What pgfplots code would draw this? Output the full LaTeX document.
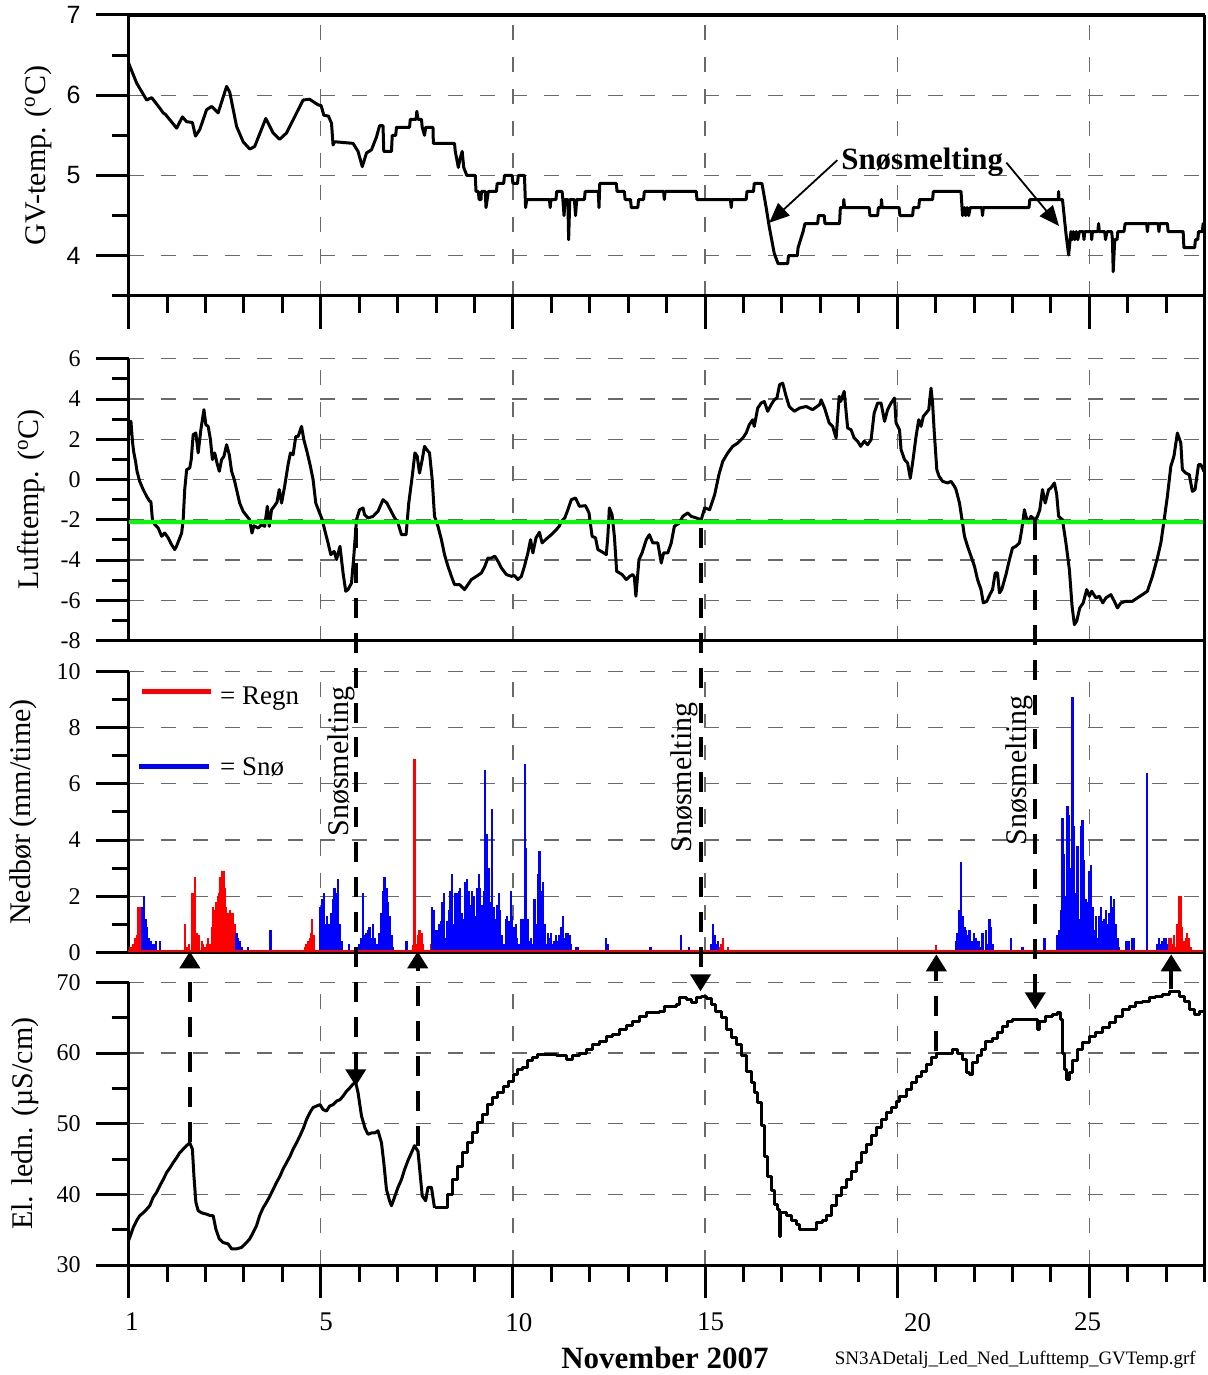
\documentclass[border=0pt]{standalone}
\usepackage{fontspec}
\setmainfont{Liberation Serif}
\newfontfamily\arialf{Liberation Sans}
\usepackage{pgfplots}
\pgfplotsset{compat=1.18}
\usetikzlibrary{arrows.meta}
\definecolor{gridgray}{RGB}{105,105,105}
\definecolor{rgreen}{RGB}{0,255,0}
\pgfplotsset{
 panel/.style={
  scale only axis, width=538.4pt, xmin=0, xmax=28,
  axis x line*=bottom, axis y line*=left,
  axis line style={line width=1.6pt,-},
  tick align=outside,
  major tick length=16.5pt, minor tick length=8.5pt,
  tick style={line width=1.5pt, black},
  grid=major,
  major grid style={draw=gridgray, line width=0.6pt, dash pattern=on 7.5pt off 8.5pt},
  yticklabel style={font=\fontsize{12}{14}\selectfont, anchor=east, inner sep=0pt, xshift=-7.3pt},
  ylabel style={font=\fontsize{15}{18}\selectfont, anchor=center},
  clip=false,
  anchor=north west,
 },
 curve/.style={black, line width=1.5pt, line join=round, mark=none},
 bars/.style={ycomb, mark=none, line width=1.1pt},
}
\begin{document}
\begin{tikzpicture}
\begin{scope}[x=0.5pt, y=-0.5pt, shift={(-128.7,0)}]
\path[use as bounding box] (0,0) rectangle (1208,1375);
\end{scope}

% ---------------- Panel 1: GV-temp
\begin{axis}[panel, at={(0pt,-7.5pt)}, height=140.5pt, ymin=3.5, ymax=7,
  ytick={4,5,6,7}, minor ytick={3.5,4.5,5.5,6.5}, yticklabels={4,5,6,7},
  yticklabel style={font=\arialf\fontsize{12.5}{15}\selectfont},
  xtick={0,5,...,25}, minor xtick={1,...,28}, xticklabel=\empty,
  ylabel={GV-temp. (\textsuperscript{o}C)},
  ylabel style={at={(axis description cs:-0.0842,0.5)}}]
\addplot[curve] coordinates {
(0,6.40) (0.21,6.15) (0.47,5.94) (0.60,5.97) (0.81,5.84) (0.90,5.78) (0.96,5.76) (1.25,5.59) (1.40,5.73) (1.51,5.67) (1.66,5.66) (1.74,5.49) (1.85,5.57) (2.03,5.82) (2.16,5.86) (2.33,5.78) (2.55,6.11) (2.63,6.04) (2.81,5.61) (2.98,5.42) (3.15,5.33) (3.28,5.36) (3.57,5.71) (3.76,5.53) (3.93,5.45) (4.11,5.53) (4.54,5.94) (4.71,5.95) (4.93,5.88) (5.01,5.87) (5.08,5.75) (5.20,5.74) (5.28,5.65) (5.32,5.38) (5.36,5.42) (5.84,5.40) (5.97,5.30) (6.08,5.11) (6.19,5.28) (6.32,5.32) (6.45,5.48) (6.53,5.62) (6.62,5.62) (6.64,5.30) (6.84,5.30) (6.86,5.50) (6.95,5.50) (6.97,5.60) (7.31,5.60) (7.33,5.70) (7.48,5.70) (7.50,5.80) (7.53,5.70) (7.62,5.70) (7.64,5.60) (7.70,5.50) (7.73,5.60) (7.92,5.60) (7.93,5.40) (8.48,5.40) (8.50,5.30) (8.58,5.10) (8.62,5.20) (8.68,5.30) (8.72,5.10) (8.80,5.00) (9.02,5.00) (9.04,4.80) (9.10,4.80) (9.12,4.70) (9.17,4.70) (9.18,4.80) (9.28,4.80) (9.30,4.60) (9.36,4.80) (9.57,4.80) (9.59,4.90) (9.76,4.90) (9.78,5.00) (9.98,5.00) (10.00,4.90) (10.12,4.90) (10.14,5.00) (10.30,5.00) (10.33,4.60) (10.36,4.70) (10.95,4.70) (10.97,4.60) (10.99,4.70) (11.12,4.70) (11.14,4.80) (11.28,4.80) (11.30,4.70) (11.33,4.50) (11.36,4.70) (11.43,4.70) (11.45,4.20) (11.48,4.70) (11.60,4.70) (11.63,4.50) (11.66,4.70) (11.86,4.70) (11.88,4.80) (12.22,4.80) (12.24,4.60) (12.26,4.90) (12.69,4.90) (12.71,4.80) (12.90,4.80) (12.92,4.70) (13.06,4.70) (13.08,4.60) (13.25,4.60) (13.27,4.70) (13.40,4.70) (13.42,4.80) (13.92,4.80) (13.94,4.70) (13.96,4.80) (14.77,4.80) (14.79,4.70) (15.66,4.70) (15.68,4.60) (15.70,4.70) (16.07,4.70) (16.09,4.80) (16.26,4.80) (16.28,4.90) (16.48,4.90) (16.59,4.60) (16.67,4.36) (16.80,4.03) (16.90,3.90) (17.15,3.90) (17.17,4.00) (17.40,4.00) (17.42,4.10) (17.55,4.30) (17.60,4.40) (17.93,4.40) (17.95,4.50) (18.10,4.50) (18.12,4.40) (18.50,4.40) (18.52,4.60) (18.60,4.60) (18.61,4.70) (18.63,4.60) (19.27,4.60) (19.29,4.50) (19.49,4.50) (19.51,4.60) (19.58,4.60) (19.59,4.70) (19.61,4.60) (20.05,4.60) (20.07,4.50) (20.40,4.50) (20.42,4.60) (20.56,4.60) (20.58,4.70) (20.92,4.70) (20.94,4.80) (21.66,4.80) (21.70,4.50) (21.75,4.60) (21.78,4.50) (21.82,4.60) (21.86,4.50) (21.90,4.60) (22.20,4.60) (22.22,4.50) (22.24,4.60) (23.43,4.60) (23.45,4.70) (24.19,4.70) (24.20,4.80) (24.21,4.70) (24.30,4.70) (24.39,4.28) (24.46,4.01) (24.52,4.30) (24.55,4.20) (24.58,4.30) (24.62,4.20) (24.66,4.30) (24.70,4.20) (24.74,4.30) (24.84,4.30) (24.86,4.20) (24.88,4.30) (25.05,4.30) (25.06,4.20) (25.08,4.30) (25.22,4.30) (25.24,4.40) (25.26,4.30) (25.40,4.30) (25.42,4.20) (25.46,4.30) (25.58,4.30) (25.60,4.20) (25.62,3.80) (25.66,4.20) (25.72,4.20) (25.74,4.30) (25.90,4.30) (25.93,4.40) (26.49,4.40) (26.51,4.30) (26.53,4.40) (26.79,4.40) (26.81,4.30) (26.83,4.40) (27.03,4.40) (27.05,4.30) (27.44,4.30) (27.46,4.10) (27.74,4.10) (27.76,4.20) (27.82,4.20) (27.84,4.30) (27.94,4.30) (27.96,4.40) (28.0,4.40)
};
\draw[line width=1.6pt] (rel axis cs:0,1) -- (rel axis cs:1,1);
\node[font=\bfseries\fontsize{15.5}{18}\selectfont] at (axis cs:20.65,5.16) {Snøsmelting};
\draw[line width=0.9pt, -{Triangle[length=10pt,width=8.5pt]}] (axis cs:18.44,5.19) -- (axis cs:16.67,4.41);
\draw[line width=0.9pt, -{Triangle[length=10pt,width=8.5pt]}] (axis cs:22.84,5.16) -- (axis cs:24.21,4.37);
\end{axis}

% ---------------- Panel 2: Lufttemp
\begin{axis}[panel, at={(0pt,-179.5pt)}, height=141pt, ymin=-8, ymax=6,
  ytick={-8,-6,...,6}, minor ytick={-7,-5,...,5}, yticklabels={-8,-6,-4,-2,0,2,4,6},
  xtick={5,10,...,25}, xticklabel=\empty, xtick style={draw=none},
  ylabel={Lufttemp. (\textsuperscript{o}C)},
  ylabel style={at={(axis description cs:-0.0907,0.5)}}]
\addplot[curve] coordinates {
(0.02,2.2) (0.06,2.9) (0.10,1.9) (0.13,1.4) (0.18,0.9) (0.22,0.4) (0.29,-0.1) (0.38,-0.5) (0.47,-0.84) (0.55,-1.08) (0.58,-1.1) (0.62,-2.0) (0.68,-2.24) (0.77,-2.41) (0.86,-2.82) (0.94,-2.66) (1.03,-2.9) (1.12,-3.24) (1.20,-3.48) (1.25,-3.3) (1.38,-2.66) (1.42,-2.0) (1.46,-0.5) (1.51,0.49) (1.59,0.57) (1.63,1.0) (1.68,2.23) (1.75,2.31) (1.81,1.32) (1.88,2.47) (1.96,3.47) (2.01,2.72) (2.07,2.64) (2.13,1.98) (2.18,0.99) (2.24,1.32) (2.30,0.82) (2.36,0.41) (2.42,0.99) (2.48,1.15) (2.55,1.73) (2.62,1.23) (2.68,0.41) (2.75,-0.01) (2.83,-0.67) (2.89,-1.17) (2.98,-1.58) (3.07,-1.8) (3.15,-2.0) (3.21,-2.66) (3.26,-2.3) (3.37,-2.41) (3.46,-2.24) (3.54,-2.33) (3.61,-1.33) (3.66,-2.33) (3.72,-1.5) (3.80,-1.3) (3.86,-1.13) (3.92,-0.5) (3.98,-1.17) (4.06,-0.34) (4.15,0.74) (4.21,1.32) (4.28,1.23) (4.35,2.14) (4.41,2.14) (4.50,2.64) (4.56,1.98) (4.65,1.32) (4.73,0.66) (4.80,0.0) (4.87,-1.17) (4.97,-1.66) (5.04,-2.0) (5.10,-2.49) (5.19,-3.15) (5.26,-3.73) (5.35,-3.57) (5.41,-3.98) (5.50,-3.32) (5.58,-4.64) (5.65,-5.55) (5.71,-5.47) (5.80,-5.14) (5.86,-3.81) (5.93,-2.0) (6.01,-1.5) (6.10,-1.41) (6.14,-1.75) (6.23,-1.91) (6.36,-1.83) (6.49,-1.58) (6.62,-1.0) (6.72,-1.17) (6.81,-1.5) (6.90,-1.83) (7.01,-2.16) (7.10,-2.74) (7.22,-2.74) (7.29,-1.17) (7.38,0.16) (7.45,1.32) (7.51,1.15) (7.57,0.32) (7.64,0.99) (7.70,1.65) (7.76,1.48) (7.83,1.32) (7.90,0.0) (7.96,-1.83) (8.05,-2.33) (8.14,-2.99) (8.22,-3.73) (8.31,-4.31) (8.40,-4.81) (8.48,-5.22) (8.61,-5.22) (8.74,-5.47) (8.83,-5.22) (8.92,-4.97) (9.05,-4.81) (9.18,-4.64) (9.27,-4.31) (9.35,-3.9) (9.44,-3.9) (9.53,-3.81) (9.61,-4.06) (9.70,-4.39) (9.83,-4.72) (9.96,-4.81) (10.04,-4.77) (10.13,-4.97) (10.22,-4.81) (10.30,-4.31) (10.39,-3.65) (10.46,-2.99) (10.52,-3.65) (10.60,-2.9) (10.69,-2.62) (10.76,-3.15) (10.87,-2.95) (11.00,-2.74) (11.13,-2.49) (11.20,-2.33) (11.26,-2.08) (11.35,-1.91) (11.43,-1.5) (11.52,-1.0) (11.63,-0.92) (11.73,-1.33) (11.89,-1.3) (11.98,-1.66) (12.06,-2.82) (12.15,-2.9) (12.21,-3.48) (12.30,-3.57) (12.43,-3.73) (12.47,-2.82) (12.51,-1.41) (12.58,-1.75) (12.64,-2.82) (12.70,-4.56) (12.77,-4.64) (12.84,-4.72) (12.95,-4.97) (13.04,-4.81) (13.12,-4.72) (13.16,-4.85) (13.20,-5.8) (13.28,-3.98) (13.36,-3.65) (13.47,-2.99) (13.55,-2.74) (13.64,-3.15) (13.77,-3.15) (13.86,-4.15) (13.92,-3.65) (14.03,-3.65) (14.12,-3.15) (14.20,-2.33) (14.33,-2.16) (14.42,-1.83) (14.55,-1.66) (14.64,-1.83) (14.77,-1.91) (14.90,-2.0) (14.99,-1.41) (15.12,-1.5) (15.25,-0.75) (15.36,0.24) (15.46,0.9) (15.59,1.32) (15.72,1.65) (15.85,1.81) (15.98,2.06) (16.07,2.31) (16.15,2.72) (16.24,2.97) (16.28,2.64) (16.37,3.55) (16.46,3.8) (16.54,3.88) (16.63,3.39) (16.72,3.72) (16.80,3.96) (16.87,4.05) (16.94,4.71) (17.02,4.79) (17.11,4.13) (17.19,3.63) (17.32,3.39) (17.46,3.55) (17.63,3.63) (17.80,3.47) (17.98,3.72) (18.02,3.96) (18.11,3.55) (18.23,2.81) (18.32,2.64) (18.41,2.06) (18.49,4.13) (18.53,3.88) (18.62,4.38) (18.71,2.56) (18.80,2.47) (18.88,2.06) (18.97,1.9) (19.05,1.65) (19.14,1.9) (19.23,1.73) (19.32,1.98) (19.40,3.3) (19.49,3.8) (19.58,3.8) (19.67,2.89) (19.75,3.47) (19.84,3.8) (19.93,4.05) (19.97,2.81) (20.06,2.47) (20.10,1.48) (20.19,0.99) (20.27,0.82) (20.34,0.07) (20.40,0.82) (20.49,2.14) (20.56,2.97) (20.62,2.64) (20.68,3.14) (20.75,3.3) (20.82,3.47) (20.88,4.54) (20.92,3.8) (20.96,2.47) (21.03,0.49) (21.09,0.16) (21.18,-0.09) (21.31,-0.17) (21.40,-0.09) (21.49,-0.34) (21.53,-0.5) (21.62,-1.17) (21.70,-2.16) (21.75,-2.82) (21.83,-3.32) (21.92,-3.81) (22.01,-4.31) (22.09,-4.97) (22.18,-5.47) (22.24,-6.13) (22.33,-6.05) (22.41,-5.72) (22.48,-5.47) (22.55,-4.64) (22.61,-4.64) (22.66,-5.63) (22.72,-5.47) (22.83,-4.72) (22.92,-3.98) (23.00,-3.4) (23.09,-3.32) (23.18,-3.15) (23.24,-2.49) (23.31,-1.5) (23.35,-1.83) (23.42,-2.16) (23.48,-1.83) (23.59,-2.0) (23.65,-1.83) (23.71,-1.5) (23.78,-0.5) (23.85,-1.17) (23.94,-0.5) (24.00,-0.42) (24.09,-0.17) (24.15,-0.75) (24.20,-1.83) (24.30,-2.0) (24.39,-3.15) (24.48,-4.48) (24.55,-6.3) (24.61,-7.21) (24.67,-7.04) (24.75,-6.38) (24.84,-6.13) (24.93,-5.47) (25.00,-5.8) (25.06,-5.55) (25.17,-5.88) (25.26,-5.8) (25.35,-6.13) (25.43,-5.88) (25.56,-5.72) (25.65,-6.05) (25.73,-6.38) (25.82,-6.13) (25.95,-6.05) (26.12,-6.05) (26.25,-5.88) (26.38,-5.72) (26.51,-5.55) (26.64,-4.81) (26.77,-3.9) (26.86,-3.15) (26.94,-2.08) (27.03,-0.84) (27.12,0.66) (27.20,1.15) (27.29,2.31) (27.38,1.81) (27.42,0.49) (27.51,0.32) (27.60,0.24) (27.68,-0.59) (27.75,-0.5) (27.84,0.74) (27.90,0.74) (27.98,0.41)
};
\addplot[rgreen, line width=2.2pt, mark=none] coordinates {(0,-2.1) (28,-2.1)};
\end{axis}

% ---------------- Panel 3: Nedbør
\begin{axis}[panel, at={(0pt,-336pt)}, height=140.5pt, ymin=0, ymax=10,
  ytick={0,2,...,10}, minor ytick={1,3,...,9}, yticklabels={0,2,4,6,8,10},
  xtick={5,10,...,25}, xticklabel=\empty, xtick style={draw=none},
  ylabel={Nedbør (mm/time)},
  ylabel style={at={(axis description cs:-0.0977,0.5)}}]
\addplot[bars, red] coordinates {
(0.00,0.1)(0.05,0.2)(0.12,0.3)(0.16,0.5)(0.21,0.6)(0.25,1.6)(0.29,1.6)
(1.46,1.0)(1.52,0.2)(1.57,0.3)(1.64,2.1)(1.68,2.1)(1.72,2.7)(1.77,0.7)(1.81,0.6)(1.84,0.6)(1.90,0.4)(1.94,0.3)(1.98,0.2)(2.03,0.3)(2.07,0.5)(2.13,0.3)(2.17,0.9)(2.20,1.6)(2.24,1.5)(2.27,1.8)(2.30,1.6)(2.33,2.0)(2.36,2.1)(2.39,2.7)(2.42,1.8)(2.44,2.9)(2.48,2.9)(2.50,2.3)(2.53,1.6)(2.55,1.1)(2.59,1.4)(2.63,1.5)(2.68,1.4)(2.72,1.4)(2.76,1.0)
(4.54,0.1)(4.58,0.2)(4.63,0.3)(4.67,0.4)(4.71,0.5)(4.76,0.7)(4.78,1.2)(4.82,0.6)
(7.40,0.25)(7.44,6.9)(7.49,0.3)(7.53,0.6)(7.57,0.8)(7.62,0.7)(7.66,0.3)(7.70,0.1)(7.88,0.3)
(15.37,0.2)(15.42,0.3)(15.46,0.5)(15.50,0.1)(15.59,0.2)(15.64,0.1)
(20.97,0.1)(21.01,0.25)(21.05,0.1)
(27.08,0.5)(27.12,0.5)(27.16,0.3)(27.20,0.6)(27.25,0.2)(27.29,1.0)(27.34,2.0)(27.38,2.0)(27.42,0.9)(27.47,0.4)(27.51,0.5)(27.55,0.7)(27.60,0.5)(27.64,0.2)(27.68,0.1)
};
\addplot[bars, blue] coordinates {
(0.34,1.6)(0.38,1.6)(0.40,2.0)(0.44,1.2)(0.48,0.9)(0.53,0.5)(0.57,0.4)(0.62,0.3)(0.67,0.3)(0.71,0.4)(0.77,0.1)(0.81,0.4)(0.86,0.1)
(2.81,0.7)(2.85,0.5)(2.89,0.4)(2.94,0.2)(3.02,0.1)(3.11,0.2)(3.15,0.1)
(3.69,0.8)(4.00,0.05)
(4.99,1.6)(5.03,1.9)(5.08,2.1)(5.12,1.0)(5.16,1.3)(5.22,1.0)(5.28,1.4)(5.32,1.9)(5.36,2.3)(5.41,2.1)(5.45,2.6)(5.49,1.0)(5.54,0.4)(5.58,0.1)(5.74,0.3)(5.80,0.1)(5.93,0.1)(6.01,0.3)(6.06,0.5)(6.10,2.1)(6.14,0.6)(6.19,0.7)(6.23,0.8)(6.27,0.9)(6.32,0.5)(6.36,1.0)(6.40,0.5)(6.45,0.3)(6.49,0.2)(6.53,0.7)(6.58,1.4)(6.62,2.2)(6.66,2.7)(6.71,2.3)(6.75,1.8)(6.79,1.3)(6.84,0.6)(6.88,0.2)(6.92,0.05)(7.01,0.1)(7.23,0.4)(7.27,0.1)
(7.90,1.6)(7.95,1.5)(7.99,0.8)(8.03,0.8)(8.08,1.0)(8.12,1.1)(8.16,1.8)(8.21,2.1)(8.25,0.5)(8.29,1.1)(8.34,1.5)(8.37,2.2)(8.41,2.8)(8.46,1.0)(8.50,2.1)(8.55,2.1)(8.59,2.2)(8.63,2.3)(8.68,1.4)(8.72,1.2)(8.76,2.5)(8.81,2.6)(8.85,2.2)(8.89,1.7)(8.93,2.2)(8.98,2.0)(9.02,1.3)(9.07,2.3)(9.11,2.8)(9.15,2.3)(9.20,1.7)(9.24,2.2)(9.28,6.5)(9.33,4.2)(9.37,3.0)(9.41,1.8)(9.46,5.1)(9.50,1.6)(9.54,1.2)(9.59,1.7)(9.63,2.1)(9.67,1.5)(9.72,0.6)(9.76,0.3)(9.81,1.2)(9.85,1.3)(9.90,1.1)(9.94,2.2)(9.98,1.3)(10.03,0.9)(10.07,1.0)(10.11,0.5)(10.16,0.3)(10.22,1.2)(10.26,1.2)(10.31,6.7)(10.35,3.7)(10.39,1.2)(10.43,0.4)(10.48,0.5)(10.52,0.3)(10.56,1.9)(10.61,1.0)(10.65,2.8)(10.69,3.6)(10.74,2.2)(10.78,2.5)(10.82,1.0)(10.87,0.3)(10.91,0.7)(10.95,0.5)(11.00,0.7)(11.04,0.3)(11.08,0.4)(11.13,0.6)(11.17,0.4)(11.21,0.6)(11.26,0.9)(11.30,1.3)(11.34,0.5)(11.39,0.7)(11.43,0.7)(11.47,0.6)(11.52,0.3)(11.56,0.1)(11.65,0.2)(11.69,0.2)(11.78,0.1)
(12.43,0.5)(12.47,0.3)(12.60,0.1)(13.56,0.2)(13.60,0.2)(14.21,0.1)(14.29,0.1)(14.38,0.6)(14.42,0.1)(14.58,0.2)(14.64,0.1)(14.72,0.1)(15.16,0.3)(15.20,1.0)(15.25,0.6)(15.29,0.3)(15.33,0.4)
(21.18,0.1)(21.27,0.1)(21.44,0.1)(21.53,0.4)(21.57,0.7)(21.62,1.5)(21.66,3.2)(21.70,1.3)(21.75,0.9)(21.79,0.8)(21.83,0.6)(21.88,0.8)(21.92,0.3)(21.96,0.4)(22.00,0.7)(22.05,0.5)(22.09,0.4)(22.13,0.4)(22.18,0.2)(22.22,0.7)(22.31,0.8)(22.35,0.3)(22.40,1.2)(22.44,0.9)(22.48,0.3)(22.53,0.1)(22.57,0.1)(22.87,0.1)(22.96,0.5)(23.26,0.2)(23.30,0.1)(23.56,0.1)(23.65,0.1)(23.83,0.5)
(24.17,0.6)(24.22,0.8)(24.26,1.5)(24.30,4.8)(24.34,3.5)(24.39,2.0)(24.43,5.2)(24.48,4.9)(24.52,3.0)(24.56,9.1)(24.61,4.5)(24.65,2.1)(24.69,3.8)(24.74,1.2)(24.78,4.5)(24.82,4.7)(24.87,3.3)(24.91,1.9)(24.95,1.8)(25.00,2.9)(25.04,3.1)(25.08,1.6)(25.13,0.8)(25.17,1.3)(25.21,0.5)(25.26,1.3)(25.30,1.6)(25.34,1.1)(25.39,1.2)(25.43,1.5)(25.47,1.0)(25.52,1.4)(25.56,2.0)(25.60,1.6)(25.65,1.9)(25.69,1.0)(25.73,0.5)(25.78,0.2)(25.95,0.4)(26.00,0.4)(26.04,0.4)(26.08,0.1)(26.12,0.5)(26.17,0.5)(26.49,6.4)(26.56,0.1)(26.64,0.1)(26.77,0.3)(26.82,0.5)(26.86,0.3)(26.90,0.4)(26.94,0.5)(26.99,0.5)(27.03,0.3)(27.73,0.1)(27.81,0.05)
};
\addplot[red, line width=0.8pt, mark=none] coordinates {(0,0.04) (28,0.04)};
\draw[red, line width=2.3pt] (axis cs:0.35,9.28) -- (axis cs:2.14,9.28);
\node[anchor=base west, inner sep=0pt, font=\fontsize{13.5}{16}\selectfont] at (axis cs:2.37,8.83) {= Regn};
\draw[blue, line width=2.3pt] (axis cs:0.27,6.61) -- (axis cs:2.09,6.61);
\node[anchor=base west, inner sep=0pt, font=\fontsize{13.5}{16}\selectfont] at (axis cs:2.37,6.28) {= Snø};
\node[rotate=90, font=\fontsize{15}{18}\selectfont] at (axis cs:5.53,6.80) {Snøsmelting};
\node[rotate=90, font=\fontsize{15}{18}\selectfont] at (axis cs:14.46,6.23) {Snøsmelting};
\node[rotate=90, font=\fontsize{15}{18}\selectfont] at (axis cs:23.17,6.48) {Snøsmelting};
\end{axis}

% ---------------- Panel 4: El. ledn.
\begin{axis}[panel, at={(0pt,-491.5pt)}, height=141.5pt, ymin=30, ymax=70,
  ytick={30,40,...,70}, minor ytick={35,45,55,65}, yticklabels={30,40,50,60,70},
  xtick={0,5,...,25}, minor xtick={1,...,28},
  xticklabels={\hspace*{3.3pt}1,\hspace*{5.3pt}5,\hspace*{5.9pt}10,\hspace*{5.5pt}15,\hspace*{20.3pt}20,25\hspace*{1.7pt}},
  xticklabel style={font=\fontsize{13.5}{16}\selectfont, anchor=north, inner sep=0pt, yshift=-7.3pt},
  ylabel={El. ledn. (µS/cm)},
  ylabel style={at={(axis description cs:-0.0958,0.5)}},
  xlabel={November 2007},
  xlabel style={at={(axis description cs:0.4985,0)}, anchor=base, yshift=-51.5pt, font=\bfseries\fontsize{15.5}{18}\selectfont}]
\addplot[curve] coordinates {
(0.0,33.5) (0.03,33.9) (0.12,35.3) (0.21,36.3) (0.29,37.0) (0.38,37.4) (0.47,37.9) (0.55,38.4) (0.64,39.6) (0.73,40.3) (0.81,41.2) (0.90,42.1) (0.99,43.1) (1.08,43.8) (1.16,44.5) (1.25,45.2) (1.33,45.9) (1.42,46.4) (1.51,46.9) (1.59,47.3) (1.66,46.4) (1.70,42.6) (1.75,38.9) (1.81,37.7) (1.90,37.4) (2.03,37.2) (2.13,37.0) (2.20,37.0) (2.27,35.1) (2.36,33.7) (2.46,33.2) (2.59,33.0) (2.68,32.3) (2.81,32.3) (2.94,32.5) (3.07,33.2) (3.15,33.7) (3.24,34.6) (3.33,35.6) (3.41,37.0) (3.50,38.1) (3.59,38.9) (3.68,39.8) (3.76,40.7) (3.85,41.7) (3.94,42.6) (4.02,43.6) (4.11,44.5) (4.20,45.4) (4.28,46.4) (4.37,47.3) (4.46,48.3) (4.55,49.4) (4.63,50.6) (4.72,51.6) (4.80,52.3) (4.89,52.5) (4.98,52.7) (5.06,52.0) (5.15,51.8) (5.23,52.5) (5.32,52.7) (5.41,53.2) (5.50,53.4) (5.58,53.9) (5.67,54.6) (5.76,55.1) (5.84,55.6) (5.91,55.8) (5.97,54.4) (6.06,51.1) (6.15,49.4) (6.23,48.5) (6.32,48.7) (6.41,48.7) (6.49,49.0) (6.58,47.3) (6.64,44.5) (6.71,40.7) (6.79,39.1) (6.84,38.4) (6.92,39.6) (7.01,41.0) (7.10,42.1) (7.18,43.5) (7.27,44.8) (7.36,45.9) (7.44,46.9) (7.53,46.1) (7.64,39.8) (7.73,39.1) (7.79,41.0) (7.88,41.0) (7.96,38.1)
};
\addplot[curve, const plot] coordinates {
(7.96,38.1) (8.18,38.1) (8.31,40.0) (8.44,42.1) (8.57,44.0) (8.70,45.9) (8.83,47.3) (8.96,48.7) (9.09,50.2) (9.22,51.3) (9.35,52.7) (9.48,53.7) (9.61,54.4) (9.75,55.3) (9.88,56.0) (10.01,57.0) (10.13,57.7) (10.26,57.9) (10.39,58.9) (10.52,59.3) (10.65,59.8) (11.13,59.6) (11.39,59.1) (11.56,59.6) (11.74,60.0) (11.91,60.5) (12.08,61.2) (12.26,61.7) (12.43,62.3) (12.60,62.6) (12.77,63.3) (12.95,63.9) (13.12,64.4) (13.29,65.2) (13.47,65.8) (13.81,65.9) (13.94,66.6) (14.25,66.9) (14.34,67.8) (14.51,67.6) (14.64,67.1) (14.77,67.8) (14.90,68.0) (15.03,67.7) (15.16,66.9) (15.28,65.9) (15.42,65.0) (15.55,63.3) (15.68,62.2) (15.81,61.2) (15.94,59.6) (16.07,57.4) (16.20,55.8) (16.28,54.4) (16.37,53.0) (16.46,49.7) (16.55,45.4) (16.63,42.6) (16.72,40.5) (16.80,38.6) (16.89,37.9) (16.93,37.9) (16.94,34.1) (16.96,37.4) (17.11,37.0) (17.24,36.3) (17.37,35.8) (17.46,35.1) (17.84,35.1) (17.89,36.0) (18.06,36.3) (18.15,37.0) (18.28,38.4) (18.41,39.8) (18.54,41.0) (18.67,42.1) (18.80,43.3) (18.93,44.5) (19.06,45.9) (19.19,47.1) (19.32,48.3) (19.45,49.4) (19.58,50.6) (19.71,51.6) (19.84,52.3) (19.97,53.2) (20.06,53.9) (20.23,54.9) (20.36,55.8) (20.49,56.7) (20.62,57.4) (20.75,58.4) (20.88,59.3) (21.01,59.9) (21.18,60.0) (21.44,60.5) (21.57,60.0) (21.70,59.1) (21.79,57.2) (21.88,57.0) (21.96,58.6) (22.09,59.6) (22.18,60.5) (22.31,61.7) (22.48,62.0) (22.61,62.9) (22.75,63.8) (22.88,64.5) (23.00,64.7) (23.52,64.7) (23.60,64.7) (23.65,63.3) (23.69,64.5) (23.87,65.2) (24.04,65.5) (24.17,65.7) (24.26,64.7) (24.30,60.0) (24.35,57.7) (24.41,56.3) (24.48,57.2) (24.56,58.9) (24.69,60.5) (24.82,61.5) (25.00,62.4) (25.17,62.9) (25.34,63.6) (25.52,64.3) (25.69,65.2) (25.87,66.2) (26.04,66.6) (26.21,67.1) (26.38,67.3) (26.56,67.8) (26.73,68.0) (26.90,68.3) (27.08,68.7) (27.21,68.7) (27.34,68.0) (27.47,67.3) (27.60,66.2) (27.73,65.5) (27.86,65.9) (28.0,65.9)
};
\end{axis}

% ---------------- frame line and annotation arrows (pixel coordinates)
\begin{scope}[x=0.5pt, y=-0.5pt, shift={(-128.7,0)}]
\draw[line width=1.6pt] (1205.5,15) -- (1205.5,1283);
\tikzset{ann/.style={line width=2pt, dash pattern=on 10pt off 7.5pt, -{Triangle[length=8.5pt,width=10pt]}}}
\draw[ann] (356,528) -- (356,1087);
\draw[ann] (701,528) -- (701,992);
\draw[ann] (1036,520) -- (1036,1010);
\draw[ann] (190,1143) -- (190,952);
\draw[ann] (418,1147) -- (418,952);
\draw[ann] (937,1052) -- (937,955);
\draw[ann] (1172,990) -- (1172,955);
\node[anchor=base east, inner sep=0pt, font=\fontsize{9.5}{11}\selectfont] at (1197,1365) {SN3ADetalj\_Led\_Ned\_Lufttemp\_GVTemp.grf};
\end{scope}
\end{tikzpicture}
\end{document}
